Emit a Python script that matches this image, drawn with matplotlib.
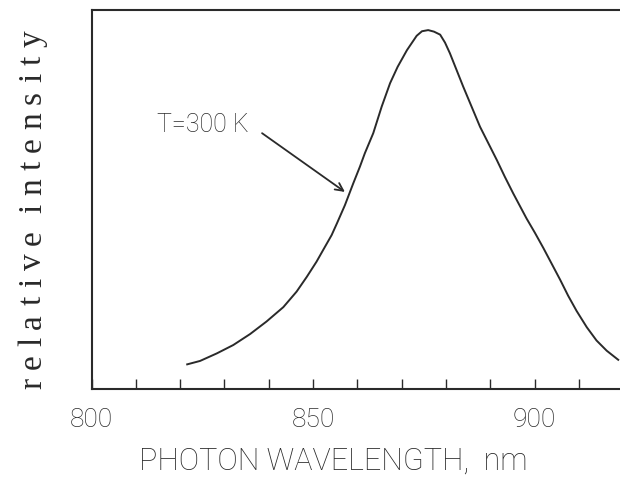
import numpy as np
import matplotlib
matplotlib.use("Agg")
import matplotlib.pyplot as plt
from matplotlib.ticker import MultipleLocator, FixedLocator

# emission spectrum (wavelength in nm, relative intensity)
wavelength = [821.6, 824.5, 828.3, 832.0, 835.8, 839.5, 843.3, 846.3, 848.6, 850.8,
              852.3, 854.2, 855.4, 857.2, 859.1, 860.6, 861.7, 863.6, 865.5, 867.4,
              869.1, 871.2, 873.4, 874.6, 876.0, 877.3, 878.7, 879.8, 880.9, 882.4,
              883.9, 885.8, 887.7, 889.6, 891.5, 893.3, 895.2, 898.2, 900.1, 902.0,
              903.9, 905.8, 907.6, 909.5, 911.8, 914.0, 916.3, 918.9]
intensity = [0.065, 0.074, 0.094, 0.116, 0.145, 0.178, 0.216, 0.257, 0.296, 0.336,
             0.367, 0.406, 0.437, 0.485, 0.543, 0.587, 0.622, 0.675, 0.745, 0.807,
             0.850, 0.894, 0.932, 0.944, 0.947, 0.943, 0.935, 0.914, 0.886, 0.842,
             0.798, 0.745, 0.692, 0.648, 0.604, 0.560, 0.516, 0.450, 0.412, 0.372,
             0.330, 0.288, 0.246, 0.206, 0.163, 0.128, 0.101, 0.077]

tick_labels = ["800", "850", "900"]
label_text = "T=300 K"
ylabel_text = "relative intensity"
arrow_tail = (838.5, 0.675)
arrow_tip = (857.2, 0.520)

sans = ["Roboto", "DejaVu Sans"]
ink = "#2a2a2a"

fig = plt.figure(figsize=[6.2, 4.84], dpi=100)
ax = fig.add_axes([0.1476, 0.1963, 0.8524, 0.783])

ax.plot(wavelength, intensity, '-', color=ink, lw=1.4)

ax.set_xlim(800, 919.3)
ax.set_ylim(0, 1)

# ticks every 10 nm, labels every 50 nm
ax.xaxis.set_major_locator(FixedLocator([800, 850, 900]))
ax.xaxis.set_minor_locator(MultipleLocator(10))
ax.set_xticklabels(tick_labels, family=sans, fontsize=19, color=ink, fontweight='light')
ax.tick_params(axis='x', which='both', direction='in', length=7, width=1.0,
               color=ink, pad=14)
ax.set_yticks([])

for side in ['left', 'bottom', 'top']:
    ax.spines[side].set_linewidth(1.5)
    ax.spines[side].set_color(ink)
ax.spines['right'].set_visible(False)

ax.set_xlabel("PHOTON WAVELENGTH,  nm", family=sans, fontsize=22, color=ink,
              fontweight='light')
ax.xaxis.set_label_coords(0.458, -0.152)

# letter-spaced serif y label, laid out one character at a time
renderer = fig.canvas.get_renderer()
W, H = fig.get_size_inches() * fig.dpi
x0 = 41 / W
start, total = 95.0, 359.0
chars = []
for ch in ylabel_text:
    if ch == " ":
        chars.append((ch, None, 0.0))
        continue
    t = fig.text(x0, 0, ch, rotation=90, rotation_mode='anchor', ha='left',
                 va='baseline', family="Liberation Serif", fontsize=24, color=ink)
    chars.append((ch, t, t.get_window_extent(renderer).height))
gap = (total - sum(c[2] for c in chars)) / (len(chars) - 1)
pos = start
for ch, t, h in chars:
    if t is not None:
        t.set_y(pos / H)
    pos += h + gap

ax.text(825.1, 0.697, label_text, ha='center', va='center', family=sans,
        fontsize=18, color=ink, fontweight='light')
ax.annotate("", xy=arrow_tip, xytext=arrow_tail,
            arrowprops=dict(arrowstyle='->', color=ink, lw=1.3,
                            mutation_scale=14, shrinkA=0, shrinkB=0))

plt.savefig("out.png", dpi=100)
